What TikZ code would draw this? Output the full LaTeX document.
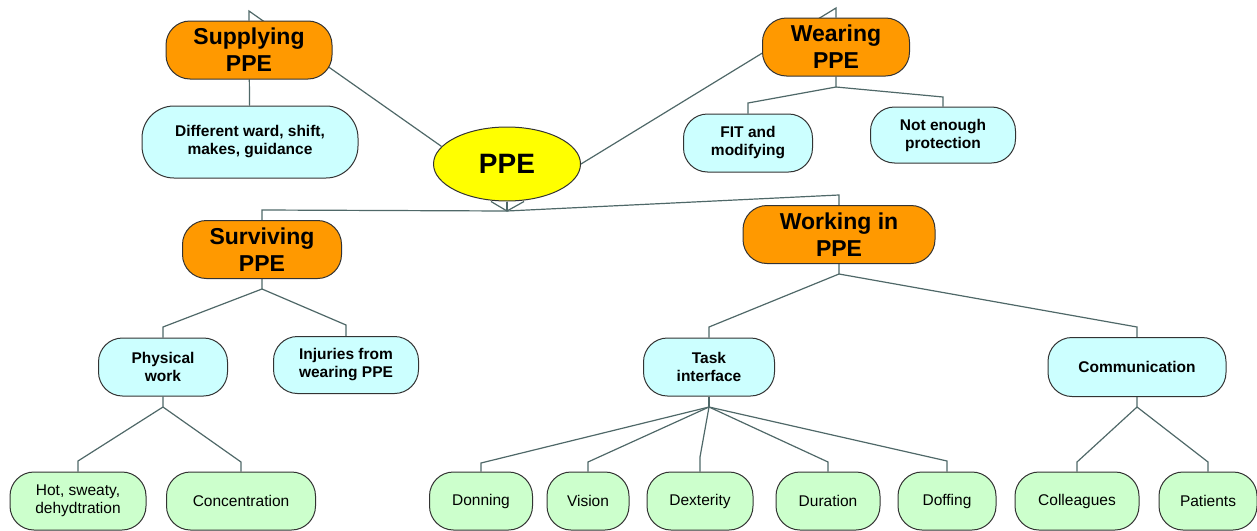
\documentclass[tikz,border=0pt]{standalone}
\usepackage{fontspec}
\setmainfont{Liberation Sans}
\usetikzlibrary{shapes.geometric,backgrounds}
\definecolor{themeorange}{HTML}{FF9900}
\definecolor{subcyan}{HTML}{CCFFFF}
\definecolor{codegreen}{HTML}{CCFFCC}
\definecolor{ppeyellow}{HTML}{FFFF00}
\definecolor{boxline}{HTML}{333333}
\definecolor{linkgray}{HTML}{4F6868}

\begin{document}
\begin{tikzpicture}[
    x=1pt, y=-1pt,
    box/.style={draw=boxline, line width=1pt, rounded corners=24pt, align=center, inner sep=2pt},
    core/.style={ellipse, draw=boxline, line width=1pt, fill=ppeyellow, minimum width=147pt, minimum height=74pt, font=\fontsize{28}{32}\selectfont\bfseries},
    theme/.style={box, fill=themeorange, minimum height=58pt, font=\fontsize{23}{27}\selectfont\bfseries},
    subtheme/.style={box, fill=subcyan, minimum height=58pt, font=\fontsize{15.5}{18}\selectfont\bfseries},
    code/.style={box, fill=codegreen, minimum height=58pt, font=\fontsize{15.5}{18}\selectfont},
    link/.style={draw=linkgray, line width=1.2pt},
]
\useasboundingbox (0,0) rectangle (1257,530);

% Centre
\node[core] (ppe) at (507,164) {PPE};

% Themes
\node[theme, minimum width=166pt] (sup) at (249,50) {Supplying\\PPE};
\node[theme, minimum width=147pt] (wear) at (836,47) {Wearing\\PPE};
\node[theme, minimum width=159pt] (surv) at (262,249.5) {Surviving\\PPE};
\node[theme, minimum width=192pt] (work) at (839,234.5) {Working in\\PPE};

% Sub-themes
\node[subtheme, minimum width=216pt, minimum height=72pt, rounded corners=32pt] (diff) at (250,142) {Different ward, shift,\\makes, guidance};
\node[subtheme, minimum width=129pt] (fit) at (748,143) {FIT and\\modifying};
\node[subtheme, minimum width=145pt, minimum height=56pt] (prot) at (943,135) {Not enough\\protection};
\node[subtheme, minimum width=129pt] (phys) at (163,367) {Physical\\work};
\node[subtheme, minimum width=145pt, minimum height=57pt] (inj) at (346,365) {Injuries from\\wearing PPE};
\node[subtheme, minimum width=131pt] (task) at (709,367) {Task\\interface};
\node[subtheme, minimum width=178pt, minimum height=59pt] (comm) at (1137,367) {Communication};

% Codes
\node[code, minimum width=136pt] (hot) at (78,501) {Hot, sweaty,\\dehydtration};
\node[code, minimum width=149pt] (conc) at (241,501) {Concentration};
\node[code, minimum width=103pt] (don) at (481,501) {Donning};
\node[code, minimum width=82pt] (vis) at (588,501) {Vision};
\node[code, minimum width=106pt] (dex) at (700,501) {Dexterity};
\node[code, minimum width=104pt] (dur) at (828,501) {Duration};
\node[code, minimum width=98pt] (dof) at (947,501) {Doffing};
\node[code, minimum width=124pt] (coll) at (1077,501) {Colleagues};
\node[code, minimum width=98pt] (pat) at (1208,501) {Patients};

% Bend points
\coordinate (supBend) at (249,11);
\coordinate (wearBend) at (836,8);
\coordinate (ppeJ) at (507,211);
\coordinate (survBend) at (262,210);
\coordinate (workBend) at (839,195);
\coordinate (wearJ) at (836,87);
\coordinate (fitBend) at (748,103);
\coordinate (protBend) at (943,97);
\coordinate (survJ) at (262,289);
\coordinate (physBend) at (163,327);
\coordinate (injBend) at (346,325);
\coordinate (workJ) at (839,274);
\coordinate (taskBend) at (709,327);
\coordinate (commBend) at (1137,327);
\coordinate (physJ) at (163,407);
\coordinate (hotBend) at (78,461);
\coordinate (concBend) at (241,462);
\coordinate (taskJ) at (709,407);
\coordinate (donBend) at (481,463);
\coordinate (visBend) at (588,462);
\coordinate (dexBend) at (700,457);
\coordinate (durBend) at (828,462);
\coordinate (dofBend) at (947,461);
\coordinate (commJ) at (1137,407);
\coordinate (collBend) at (1077,462);
\coordinate (patBend) at (1208,462);

% Connectors
\begin{scope}[on background layer]
\draw[link] (ppe.165) -- (supBend) -- (sup) -- (diff);
\draw[link] (ppe.east) -- (wearBend) -- (wear);
\draw[link] (wear) -- (wearJ) -- (fitBend) -- (fit);
\draw[link] (wearJ) -- (protBend) -- (prot);
\draw[link] ([xshift=-16pt]ppe.south) -- (ppeJ) -- ([xshift=17pt]ppe.south);
\draw[link] (ppe) -- (ppeJ);
\draw[link] (ppeJ) -- (survBend) -- (surv);
\draw[link] (ppeJ) -- (workBend) -- (work);
\draw[link] (surv) -- (survJ) -- (physBend) -- (phys);
\draw[link] (survJ) -- (injBend) -- (inj);
\draw[link] (work) -- (workJ) -- (taskBend) -- (task);
\draw[link] (workJ) -- (commBend) -- (comm);
\draw[link] (phys) -- (physJ) -- (hotBend) -- (hot);
\draw[link] (physJ) -- (concBend) -- (conc);
\draw[link] (task) -- (taskJ);
\foreach \leaf in {don,vis,dex,dur,dof}
    \draw[link] (taskJ) -- (\leaf Bend) -- (\leaf);
\draw[link] (comm) -- (commJ) -- (collBend) -- (coll);
\draw[link] (commJ) -- (patBend) -- (pat);
\end{scope}

\end{tikzpicture}
\end{document}
